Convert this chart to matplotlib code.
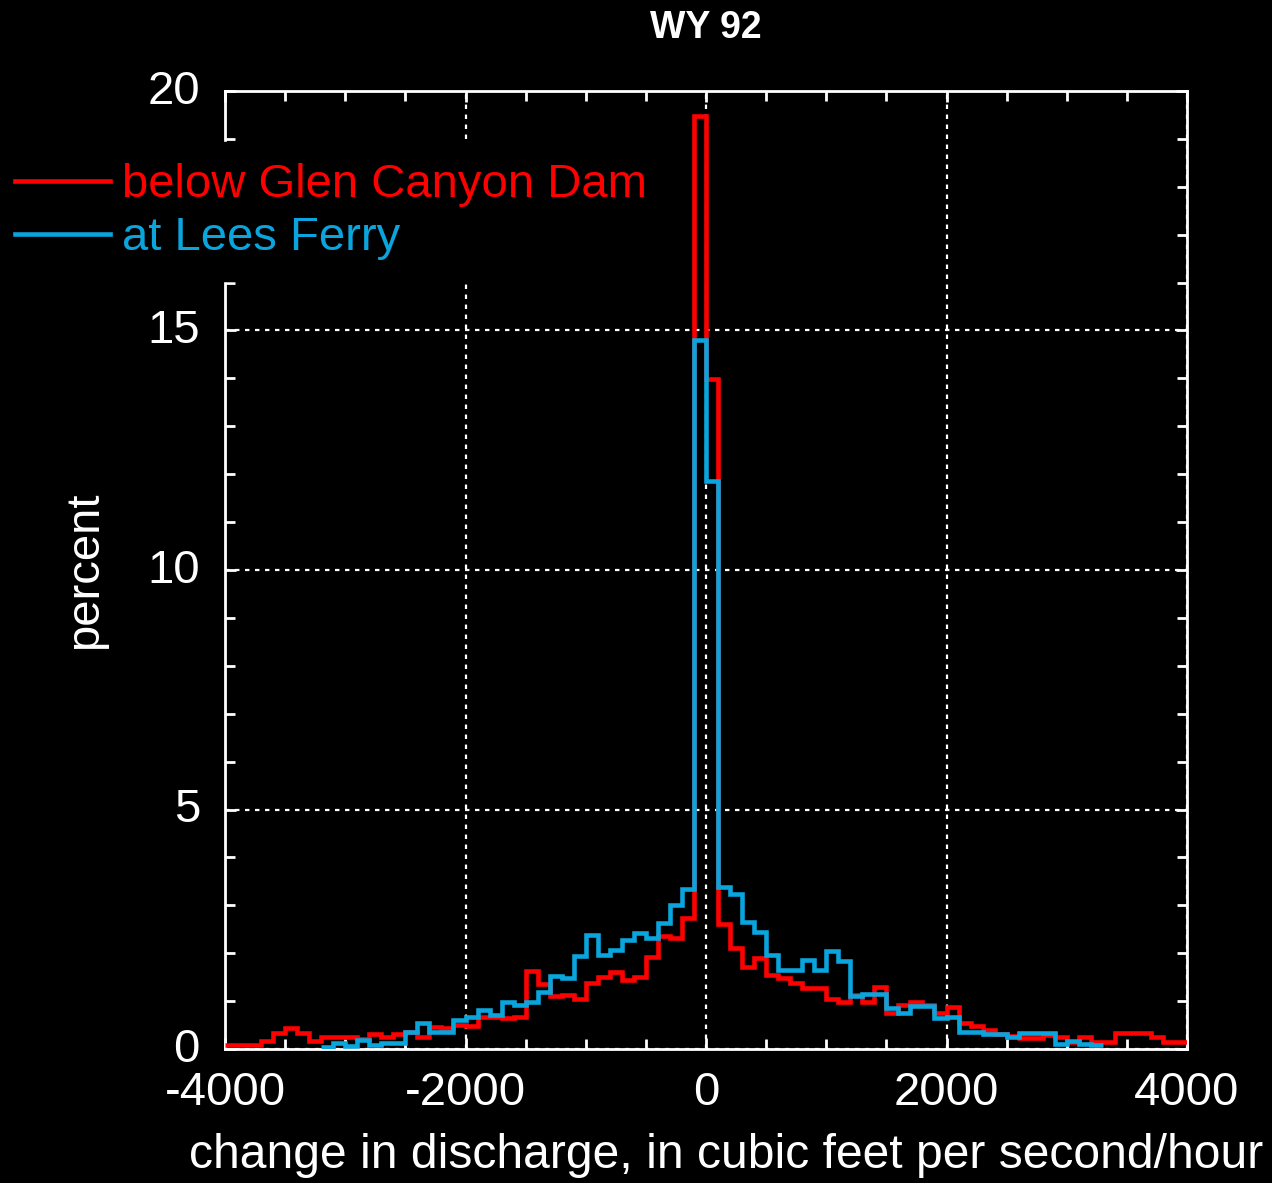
import numpy as np
import matplotlib
matplotlib.use('Agg')
import matplotlib.pyplot as plt
from matplotlib.lines import Line2D
from matplotlib.ticker import MultipleLocator
from matplotlib.transforms import ScaledTranslation

# histogram of hourly change in discharge, WY 92, bins of 100 cfs/hour
bin_width = 100

# below Glen Canyon Dam, bins from -4000 to 4000
dam_start = -4000
dam_pct = [
    0.08, 0.08, 0.08, 0.17, 0.33, 0.44, 0.33, 0.17, 0.26, 0.26,
    0.26, 0.21, 0.31, 0.26, 0.31, 0.36, 0.26, 0.46, 0.44, 0.50,
    0.47, 0.66, 0.66, 0.64, 0.66, 1.62, 1.36, 1.10, 1.12, 1.04,
    1.38, 1.51, 1.60, 1.44, 1.51, 1.93, 2.36, 2.32, 2.73, 19.48,
    13.99, 2.62, 2.10, 1.72, 1.90, 1.54, 1.48, 1.37, 1.28, 1.28,
    1.04, 0.99, 1.13, 0.99, 1.30, 0.75, 0.92, 0.99, 0.92, 0.76,
    0.88, 0.54, 0.49, 0.39, 0.32, 0.27, 0.23, 0.23, 0.30, 0.26,
    0.15, 0.26, 0.15, 0.15, 0.33, 0.33, 0.33, 0.26, 0.15, 0.15,
]

# at Lees Ferry, bins from -3200 to 3300
lees_start = -3200
lees_pct = [
    0.04, 0.13, 0.06, 0.19, 0.08, 0.13, 0.13, 0.36, 0.54, 0.36,
    0.36, 0.61, 0.67, 0.81, 0.71, 0.99, 0.92, 0.99, 1.20, 1.52,
    1.49, 1.94, 2.38, 1.96, 2.07, 2.28, 2.43, 2.32, 2.63, 3.00,
    3.34, 14.80, 11.86, 3.39, 3.24, 2.66, 2.45, 1.96, 1.65, 1.65,
    1.86, 1.65, 2.05, 1.84, 1.10, 1.15, 1.15, 0.86, 0.75, 0.89,
    0.89, 0.65, 0.66, 0.36, 0.36, 0.32, 0.32, 0.25, 0.33, 0.33,
    0.33, 0.10, 0.17, 0.10, 0.08,
]

labels = ['below Glen Canyon Dam', 'at Lees Ferry']
RED = '#ff0000'
BLUE = '#0aa5dc'

plt.rcParams['font.family'] = ['Liberation Sans', 'DejaVu Sans']
plt.rcParams['axes.unicode_minus'] = False

W, H = 1272, 1183
fig = plt.figure(figsize=(W / 100, H / 100), dpi=100, facecolor='black')
ax = fig.add_axes([225 / W, 1 - 1049 / H, 962 / W, 958 / H], facecolor='black')

dam_edges = dam_start + bin_width * np.arange(len(dam_pct) + 1)
lees_edges = lees_start + bin_width * np.arange(len(lees_pct) + 1)

ax.stairs(dam_pct, dam_edges, baseline=None, color=RED, lw=3.3, zorder=3)
ax.stairs(lees_pct, lees_edges, baseline=None, color=BLUE, lw=3.3, zorder=4)

ax.set_xlim(-4000, 4000)
ax.set_ylim(0, 20)
ax.set_xticks([-4000, -2000, 0, 2000, 4000])
ax.set_yticks([0, 5, 10, 15, 20])
ax.xaxis.set_minor_locator(MultipleLocator(500))
ax.yaxis.set_minor_locator(MultipleLocator(1))

ax.grid(True, which='major', color='white', linestyle=(0, (2, 2.5)), lw=1.6, zorder=1)

for sp in ax.spines.values():
    sp.set_color('white')
    sp.set_linewidth(2)

ax.tick_params(which='both', direction='in', top=True, right=True,
               colors='white', width=2, labelsize=34)
ax.tick_params(which='major', length=8)
ax.tick_params(which='minor', length=7)
ax.tick_params(axis='y', pad=18)
ax.tick_params(axis='x', pad=16)

# y labels sit a little above their ticks in the original
lift = ScaledTranslation(0, 4 / 100, fig.dpi_scale_trans)
for lab in ax.get_yticklabels():
    lab.set_transform(lab.get_transform() + lift)

ax.set_title('WY 92', color='white', fontsize=27, fontweight='bold', pad=38)

ax.set_xlabel('change in discharge, in cubic feet per second/hour',
              color='white', fontsize=34.6, va='center')
ax.xaxis.set_label_coords((726 - 225) / 962, -(1155 - 1049) / 958)
ax.set_ylabel('percent', color='white', fontsize=34, va='center')
ax.yaxis.set_label_coords((85 - 225) / 962, 0.5)

handles = [Line2D([], [], color=RED, lw=3.3), Line2D([], [], color=BLUE, lw=3.3)]
leg = ax.legend(handles, labels, loc='upper left',
                bbox_to_anchor=(-6 / W, 1 - 142 / H), bbox_transform=fig.transFigure,
                frameon=True, fancybox=False, facecolor='black', edgecolor='black',
                framealpha=1, fontsize=34, handlelength=2.0, handletextpad=0.25,
                labelspacing=0.19, borderpad=0.45, borderaxespad=0,
                labelcolor='linecolor')

fig.savefig('out.png', dpi=100, facecolor='black')
